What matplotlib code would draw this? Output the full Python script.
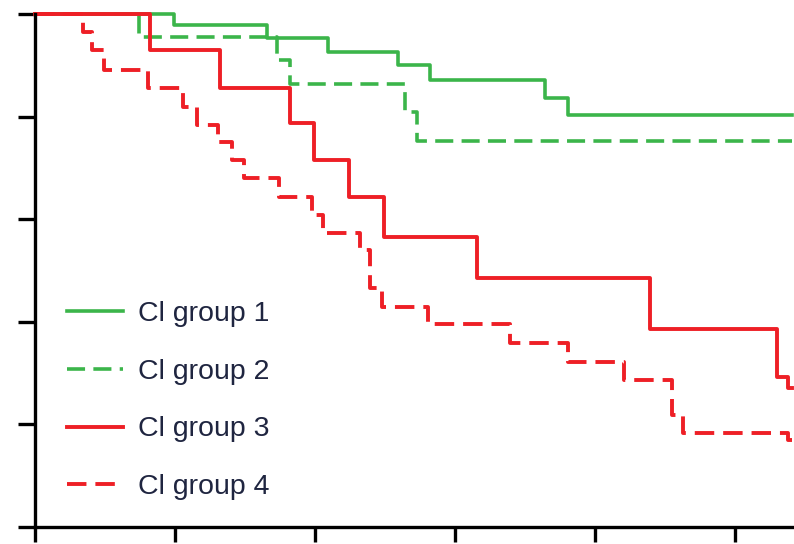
import numpy as np
import matplotlib
matplotlib.use("Agg")
from matplotlib import pyplot as plt

# survival curves (time in years, survival fraction)
t_g1 = [0, 0.99, 1.66, 2.09, 2.59, 2.82, 3.64, 3.81]
s_g1 = [1.0, 0.979, 0.953, 0.926, 0.901, 0.871, 0.836, 0.803]

t_g2 = [0, 0.74, 1.73, 1.82, 2.64, 2.73]
s_g2 = [1.0, 0.955, 0.910, 0.864, 0.809, 0.752]

t_g3 = [0, 0.82, 1.32, 1.82, 1.99, 2.24, 2.49, 3.16, 4.39, 5.30, 5.38]
s_g3 = [1.0, 0.930, 0.856, 0.788, 0.715, 0.643, 0.565, 0.485, 0.386, 0.292, 0.271]

t_g4 = [0, 0.34, 0.41, 0.49, 0.81, 1.06, 1.16, 1.31, 1.41, 1.49, 1.74,
        1.98, 2.06, 2.32, 2.39, 2.48, 2.81, 3.39, 3.81, 4.21, 4.55, 4.63, 5.38]
s_g4 = [1.0, 0.965, 0.930, 0.891, 0.856, 0.819, 0.784, 0.750, 0.715, 0.680, 0.643,
        0.608, 0.573, 0.540, 0.466, 0.429, 0.396, 0.359, 0.322, 0.287, 0.218, 0.183, 0.170]

t_end = 5.41
labels = ["Cl group 1", "Cl group 2", "Cl group 3", "Cl group 4"]

green = "#3bb54a"
red = "#ee1f26"
dash = (0, (5, 2.3))

fig = plt.figure(figsize=(7.94, 5.44), dpi=100)
ax = fig.add_axes([0.0441, 0.0312, 0.9559, 0.9431])

curves = [(t_g1, s_g1, green, "-", 2.6),
          (t_g2, s_g2, green, dash, 2.6),
          (t_g3, s_g3, red, "-", 2.8),
          (t_g4, s_g4, red, dash, 2.8)]
for (t, s, c, ls, lw), lab in zip(curves, labels):
    ax.step(t + [t_end], s + [s[-1]], where="post", color=c, linestyle=ls,
            linewidth=lw, label=lab, clip_on=False)

ax.set_xlim(0, (794 - 35) / 140)
ax.set_ylim(0, 1.0)
ax.set_xticks(np.arange(0, 6, 1))
ax.set_yticks(np.arange(0, 1.01, 0.2))
ax.set_xticklabels([])
ax.set_yticklabels([])
ax.tick_params(direction="out", length=11, width=2.4, color="black")
ax.tick_params(axis="y", length=12)
for side in ["top", "right"]:
    ax.spines[side].set_visible(False)
for side in ["left", "bottom"]:
    ax.spines[side].set_linewidth(2.4)

leg = ax.legend(loc="upper left", bbox_to_anchor=(0.009, 0.49), frameon=False,
                prop={"family": "Liberation Sans", "size": 20.5},
                handlelength=1.96, handletextpad=0.53, labelspacing=1.11)
for txt in leg.get_texts():
    txt.set_color("#1f2540")

plt.savefig("out.png", dpi=100)
